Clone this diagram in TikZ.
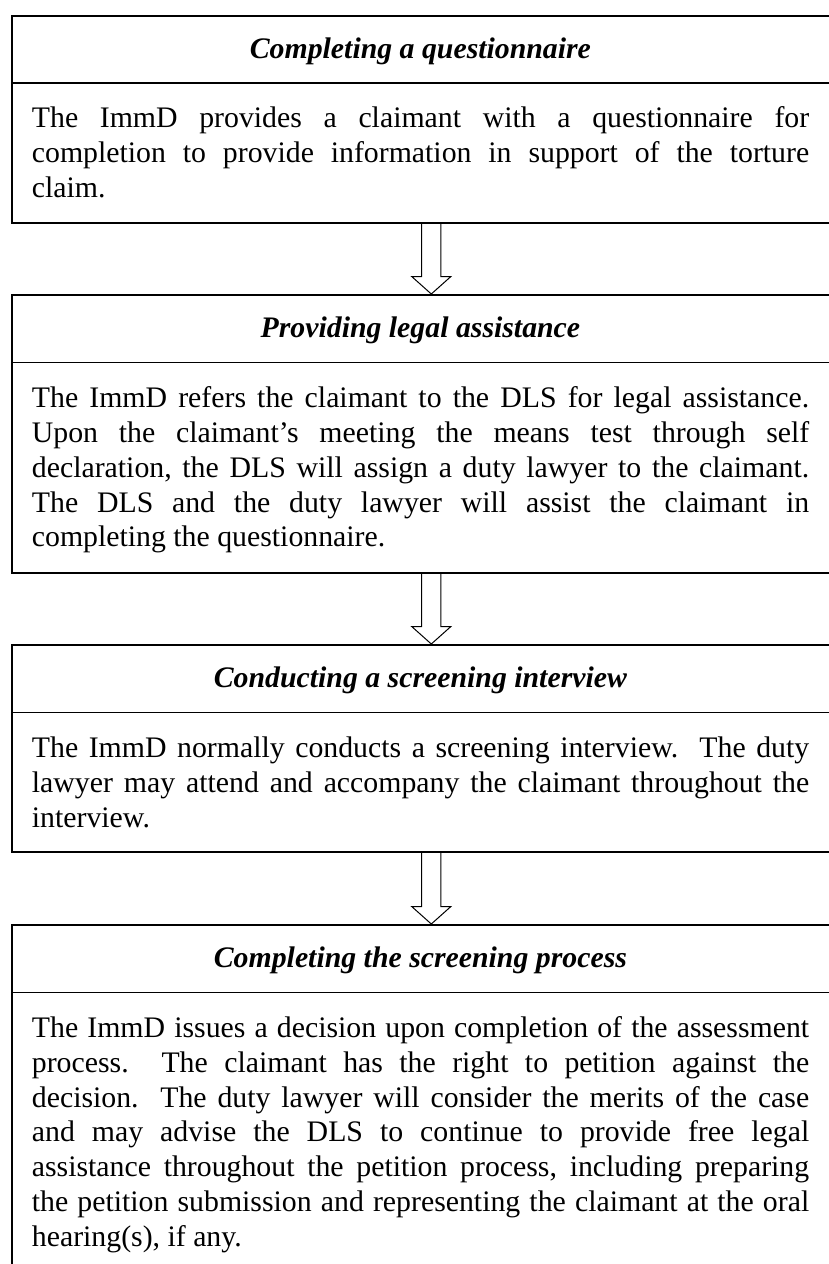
\documentclass[tikz,border=0pt]{standalone}
\usepackage{fontspec}
\setmainfont{Liberation Serif}
\usetikzlibrary{calc}
\frenchspacing
\tolerance=10000
\hbadness=10000
\tikzset{
  frame/.style={draw, line width=1.6pt, minimum width=839pt, inner sep=0pt, anchor=north west},
  divider/.style={line width=1.6pt},
  title/.style={font=\fontsize{29.8pt}{34.8pt}\selectfont\bfseries\itshape, inner sep=0pt, anchor=base},
  body/.style={font=\fontsize{29.8pt}{34.8pt}\selectfont, text width=777.3pt, align=justify, inner sep=0pt, anchor=north west},
  blockarrow/.style={line width=1pt, line join=miter,
    to path={let \p1=(\tikztostart), \p2=(\tikztotarget) in
      ({\x1-9.6pt},{\y1}) -- ({\x1-9.6pt},{\y2+17.5pt}) -- ({\x1-19.6pt},{\y2+17.5pt}) --
      ({\x1},{\y2}) -- ({\x1+19.6pt},{\y2+17.5pt}) -- ({\x1+9.6pt},{\y2+17.5pt}) -- ({\x1+9.6pt},{\y1})}}
}
\newcommand{\firstline}{\rule{0pt}{25pt}}
\begin{document}
\begin{tikzpicture}[x=1pt,y=-1pt]
\useasboundingbox (0,0) rectangle (829,1264);
% frames
\node[frame, minimum height=207pt] (f1) at (11,15) {};
\node[frame, minimum height=278pt] (f2) at (11,294) {};
\node[frame, minimum height=207pt] (f3) at (11,644) {};
\node[frame, minimum height=380pt] (f4) at (11,924) {};
% dividers
\draw[divider] (f1.west |- 0,83) -- (f1.east |- 0,83);
\draw[divider] (f2.west |- 0,362.5) -- (f2.east |- 0,362.5);
\draw[divider] (f3.west |- 0,712.3) -- (f3.east |- 0,712.3);
\draw[divider] (f4.west |- 0,992.3) -- (f4.east |- 0,992.3);
% titles
\node[title] (h1) at (420.4,58.3) {Completing a questionnaire};
\node[title] (h2) at (420.4,337.8) {Providing legal assistance};
\node[title] (h3) at (420.4,687.5) {Conducting a screening interview};
\node[title] (h4) at (420.4,967.3) {Completing the screening process};
% bodies
\node[body] (t1) at (31.7,102.7) {\firstline The ImmD provides a claimant with a questionnaire for\linebreak
completion to provide information in support of the torture\linebreak
claim.};
\node[body] (t2) at (31.7,382.5) {\firstline The ImmD refers the claimant to the DLS for legal assistance.\linebreak
Upon the claimant’s meeting the means test through self\linebreak
declaration, the DLS will assign a duty lawyer to the claimant.\linebreak
The DLS and the duty lawyer will assist the claimant in\linebreak
completing the questionnaire.};
\node[body] (t3) at (31.7,732.3) {\firstline The ImmD normally conducts a screening interview.\ \ The duty\linebreak
lawyer may attend and accompany the claimant throughout the\linebreak
interview.};
\node[body] (t4) at (31.7,1012.3) {\firstline The ImmD issues a decision upon completion of the assessment\linebreak
process.\ \ The claimant has the right to petition against the\linebreak
decision.\ \ The duty lawyer will consider the merits of the case\linebreak
and may advise the DLS to continue to provide free legal\linebreak
assistance throughout the petition process, including preparing\linebreak
the petition submission and representing the claimant at the oral\linebreak
hearing(s), if any.};
% arrows
\draw[blockarrow] (f1.south) to (f2.north);
\draw[blockarrow] (f2.south) to (f3.north);
\draw[blockarrow] (f3.south) to (f4.north);
\end{tikzpicture}
\end{document}
